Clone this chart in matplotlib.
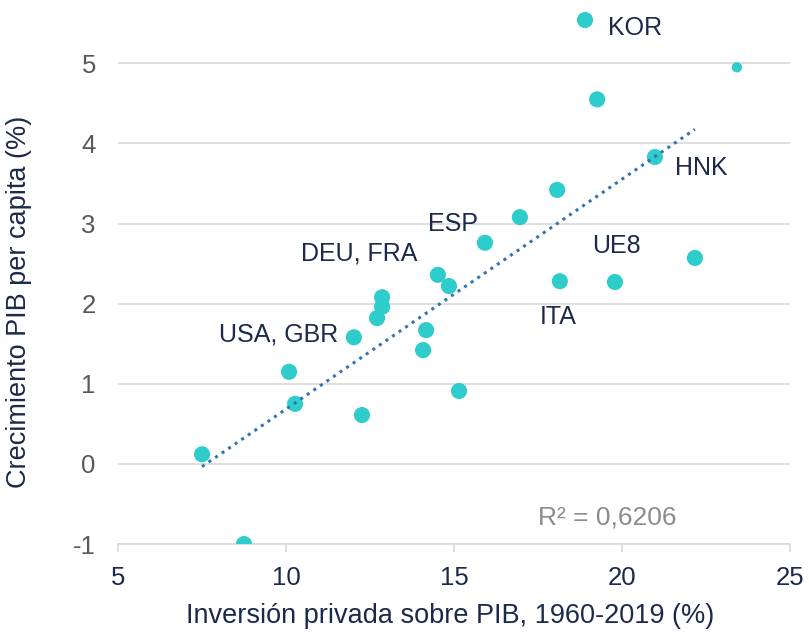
import numpy as np
import matplotlib.pyplot as plt

plt.rcParams['font.family'] = ['Liberation Sans', 'DejaVu Sans']

# inversion privada / PIB (%) vs crecimiento PIB per capita (%)
inversion = [7.5, 8.75, 10.09, 10.27, 12.02, 12.26, 12.71, 12.86, 12.86, 14.08,
             14.17, 14.52, 14.85, 15.15, 15.92, 16.96, 18.07, 18.15, 18.9, 19.26,
             19.79, 20.98, 22.17]
crecimiento = [0.12, -1.0, 1.15, 0.75, 1.58, 0.61, 1.82, 2.08, 1.96, 1.42,
               1.67, 2.36, 2.22, 0.91, 2.76, 3.08, 3.42, 2.28, 5.54, 4.55,
               2.27, 3.83, 2.57]
# punto aparte (marcador pequeno)
extra_x = [23.42]
extra_y = [4.95]

etiquetas = ["KOR", "HNK", "ESP", "DEU, FRA", "UE8", "ITA", "USA, GBR"]
etiq_x = [19.58, 21.58, 14.23, 10.45, 19.11, 17.56, 8.0]
etiq_y = [5.44, 3.69, 3.0, 2.63, 2.72, 1.83, 1.61]

navy = '#1B2A4A'
turq = '#2ECDCB'

fig = plt.figure(figsize=(8.09, 6.32), dpi=100)
ax = fig.add_axes([0.1459, 0.1392, 0.8306, 0.8608])

ax.scatter(inversion, crecimiento, s=135, color=turq, edgecolors='none', zorder=3)
ax.scatter(extra_x, extra_y, s=55, color=turq, edgecolors='none', zorder=3)

# linea de tendencia
m, b = np.polyfit(inversion, crecimiento, 1)
xs = np.array([min(inversion), max(inversion)])
ax.plot(xs, m * xs + b, color='#2E75B6', linestyle=(0, (1, 1.6)), linewidth=2.2, zorder=4)

for t, x, y in zip(etiquetas, etiq_x, etiq_y):
    ax.text(x, y, t, fontsize=18, color=navy, va='center', ha='left')

ax.text(17.5, -0.67, "R² = 0,6206", fontsize=19, color='#8C8C8C', va='center', ha='left')

ax.set_xlim(5, 25)
ax.set_ylim(-1, 5.79)
ax.set_xticks([5, 10, 15, 20, 25])
ax.set_yticks([-1, 0, 1, 2, 3, 4, 5])
ax.set_yticklabels(['-1', '0', '1', '2', '3', '4', '5'])
ax.grid(axis='y', color='#D9D9D9', linewidth=1.2)
ax.set_axisbelow(True)

for s in ['top', 'right', 'left']:
    ax.spines[s].set_visible(False)
ax.spines['bottom'].set_color('#D9D9D9')
ax.spines['bottom'].set_linewidth(1.2)

ax.tick_params(axis='x', colors='#D9D9D9', labelcolor=navy, labelsize=18.5,
               length=6, width=1.2, pad=10)
ax.tick_params(axis='y', length=0, labelcolor='#595959', labelsize=18.5, pad=16)

ax.set_xlabel("Inversión privada sobre PIB, 1960-2019 (%)", fontsize=19.5, color=navy)
ax.set_ylabel("Crecimiento PIB per capita (%)", fontsize=19.5, color=navy)
ax.xaxis.set_label_coords(0.494, -0.108)
ax.yaxis.set_label_coords(-0.128, 0.445)

fig.savefig("out.png", dpi=100)
